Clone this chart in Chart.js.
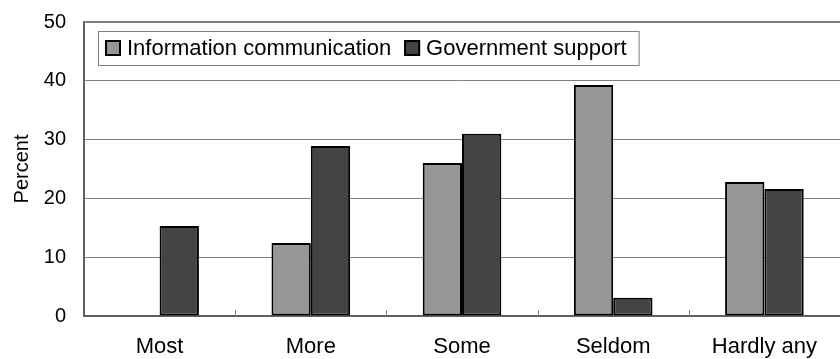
<!DOCTYPE html>
<html>
<head>
<meta charset="utf-8">
<script src="https://cdn.jsdelivr.net/npm/chart.js@4/dist/chart.umd.min.js"></script>
<style>
html,body{margin:0;padding:0;background:#fff;}
#wrap{width:840px;height:359px;position:relative;}
</style>
</head>
<body>
<div id="wrap"><canvas id="c" width="840" height="359"></canvas></div>
<script>
const categories = ["Most", "More", "Some", "Seldom", "Hardly any"];
const infoComm = [0, 12.4, 26.0, 39.3, 22.8];
const govSupport = [15.3, 28.9, 31.0, 3.1, 21.6];
const seriesNames = ["Information communication", "Government support"];
const yTicks = [0, 10, 20, 30, 40, 50];

const FONT = "'Liberation Sans', Arial, sans-serif";

const insideTicks = {
  id: 'insideTicks',
  afterDatasetsDraw(chart) {
    const ctx = chart.ctx, xs = chart.scales.x, area = chart.chartArea;
    ctx.save();
    ctx.strokeStyle = '#808080';
    ctx.lineWidth = 1;
    for (let i = 1; i < categories.length; i++) {
      const x = Math.round((xs.getPixelForValue(i - 1) + xs.getPixelForValue(i)) / 2) + 0.5;
      ctx.beginPath();
      ctx.moveTo(x, area.bottom);
      ctx.lineTo(x, area.bottom - 6);
      ctx.stroke();
    }
    ctx.strokeStyle = '#808080';
    ctx.lineWidth = 2;
    ctx.beginPath();
    ctx.moveTo(area.left, area.top);
    ctx.lineTo(area.right, area.top);
    ctx.stroke();
    ctx.restore();
  }
};

const boxLegend = {
  id: 'boxLegend',
  afterDraw(chart) {
    const ctx = chart.ctx;
    ctx.save();
    ctx.font = '22px ' + FONT;
    const bx = 98, by = 31, bh = 34;
    let x = bx + 7;
    const items = chart.data.datasets.map(d => ({label: d.label, color: d.backgroundColor}));
    const parts = [];
    items.forEach((it) => {
      parts.push({x: x, it});
      x += 16 + 6 + ctx.measureText(it.label).width + 13;
    });
    const bw = x - 13 + 12 - bx;
    ctx.fillStyle = '#fff';
    ctx.fillRect(bx, by, bw, bh);
    ctx.strokeStyle = '#808080';
    ctx.lineWidth = 1;
    ctx.strokeRect(bx + 0.5, by + 0.5, bw, bh);
    parts.forEach(p => {
      const cy = by + bh / 2;
      ctx.fillStyle = p.it.color;
      ctx.fillRect(p.x, cy - 8, 16, 16);
      ctx.strokeStyle = '#000';
      ctx.lineWidth = 2;
      ctx.strokeRect(p.x + 1, cy - 7, 14, 14);
      ctx.fillStyle = '#000';
      ctx.textBaseline = 'middle';
      ctx.fillText(p.it.label, p.x + 22, cy + 1);
    });
    ctx.restore();
  }
};

new Chart(document.getElementById('c'), {
  type: 'bar',
  data: {
    labels: categories,
    datasets: [
      {label: seriesNames[0], data: infoComm, backgroundColor: '#969696', borderColor: '#000', borderWidth: 2, borderSkipped: false},
      {label: seriesNames[1], data: govSupport, backgroundColor: '#444444', borderColor: '#000', borderWidth: 2, borderSkipped: false}
    ]
  },
  options: {
    responsive: false,
    animation: false,
    devicePixelRatio: 1,
    layout: {padding: {top: 22, right: 0, left: 0, bottom: 0}},
    datasets: {bar: {categoryPercentage: 0.52, barPercentage: 1.0}},
    plugins: {legend: {display: false}, tooltip: {enabled: false}},
    scales: {
      x: {
        grid: {display: false, drawTicks: false},
        border: {display: true, color: '#606060', width: 2},
        ticks: {color: '#000', font: {family: FONT, size: 22, lineHeight: 1}, padding: 20, maxRotation: 0, autoSkip: false},
        afterFit(s) { s.height = 359 - 316; s.paddingLeft = 0; s.paddingRight = 0; }
      },
      y: {
        min: 0, max: 50,
        afterBuildTicks(s) { s.ticks = yTicks.map(v => ({value: v})); },
        grid: {color: '#808080', lineWidth: 1, drawTicks: false},
        border: {display: true, color: '#606060', width: 2},
        ticks: {color: '#000', font: {family: FONT, size: 20}, padding: 18},
        title: {display: true, text: 'Percent', color: '#000', font: {family: FONT, size: 20}, padding: {top: 10, bottom: 0}},
        afterFit(s) { s.width = 84; s.paddingTop = 0; s.paddingBottom = 0; }
      }
    }
  },
  plugins: [insideTicks, boxLegend]
});
</script>
</body>
</html>
